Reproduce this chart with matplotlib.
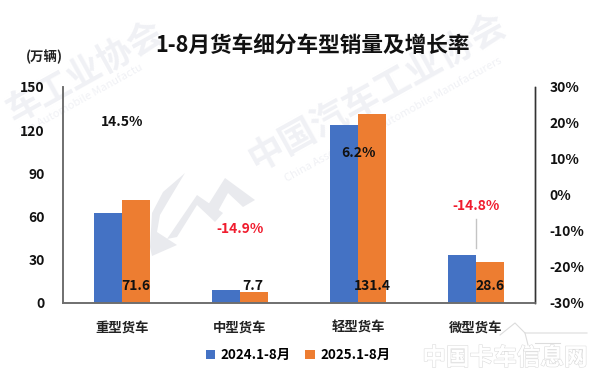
import matplotlib
matplotlib.use("Agg")
import numpy as np
import matplotlib.pyplot as plt
import matplotlib.patheffects as pe
from matplotlib.patches import Polygon
from matplotlib.lines import Line2D

plt.rcParams['font.family'] = ['Noto Sans CJK SC', 'DejaVu Sans']
plt.rcParams['font.weight'] = 'bold'

categories = ["重型货车", "中型货车", "轻型货车", "微型货车"]
sales_2024 = [62.5, 9.0, 123.7, 33.6]
sales_2025 = [71.6, 7.7, 131.4, 28.6]
growth = ["14.5%", "-14.9%", "6.2%", "-14.8%"]
left_ticks = [0, 30, 60, 90, 120, 150]
right_ticks = [-30, -20, -10, 0, 10, 20, 30]
series_names = ["2024.1-8月", "2025.1-8月"]

BLUE = "#4472c4"
ORANGE = "#ed7d31"
MARK = "#f0f1f5"

W, H = 600, 373
fig = plt.figure(figsize=(W / 100, H / 100), dpi=100)
ax = fig.add_axes([63 / W, 1 - 303 / H, 472 / W, 216 / H])
ax.patch.set_alpha(0)

def px(pts):
    return [(a / W, 1 - b / H) for a, b in pts]

# watermark, under the bars
def mark(x, y, s, size, rot=29, weight='bold'):
    fig.text(x / W, 1 - y / H, s, fontsize=size, rotation=rot, color=MARK, weight=weight,
             ha='center', va='center', rotation_mode='anchor', zorder=-5)

mark(378, 92, "中国汽车工业协会", 26)
mark(85, 72, "车工业协会", 25)
mark(393, 120, "China Association of Automobile Manufacturers", 8, weight='normal')
mark(82, 100, "ion Automobile Manufactu", 8, weight='normal')

swoosh = [(185, 173), (163, 192), (152, 213), (150, 247), (152, 256), (177, 245),
          (157, 232), (160, 215), (170, 198)]
m_left = [(167, 239), (197, 195), (223, 213), (215, 222), (197, 205), (177, 237)]
m_right = [(208, 205), (225, 178), (255, 200), (243, 207), (228, 193), (217, 213)]
for shape in (swoosh, m_left, m_right):
    fig.add_artist(Polygon(px(shape), closed=True, transform=fig.transFigure,
                           facecolor="#e9eaee", edgecolor='none', zorder=-5))

x = np.arange(len(categories))
w = 0.237
ax.bar(x - w / 2, sales_2024, w, color=BLUE, label=series_names[0])
ax.bar(x + w / 2, sales_2025, w, color=ORANGE, label=series_names[1])

ax.set_xlim(-0.5, 3.5)
ax.set_ylim(0, 150)
ax.set_xticks(x, categories)
ax.set_yticks(left_ticks)
ax.tick_params(axis='x', length=0, pad=13, labelsize=9.6, colors="#222222")
ax.tick_params(axis='y', length=0, pad=13, labelsize=10, colors="#111111")

ax2 = ax.twinx()
ax2.set_ylim(-30, 30)
ax2.set_yticks(right_ticks, [f"{t}%" for t in right_ticks])
ax2.tick_params(axis='y', length=0, pad=10.5, labelsize=10, colors="#111111")

for a in (ax, ax2):
    a.spines['top'].set_visible(False)
    for s in ('left', 'bottom'):
        a.spines[s].set_color("#6e6e6e")
        a.spines[s].set_linewidth(1.2)
    a.spines['right'].set_color("#333333")
    a.spines['right'].set_linewidth(1.0)

# value labels sit low on the orange bars, as in the source
value_x = [0.12, 1.11, 2.12, 3.12]
for vx, v in zip(value_x, sales_2025):
    ax.text(vx, 11.8, str(v), ha='center', va='center', fontsize=10, color="#111111", zorder=5)

growth_y = [125.7, 51.5, 104.5, 67.5]
growth_col = ["#111111", "#f01c2e", "#111111", "#f01c2e"]
for gx, gy, g, c in zip(x, growth_y, growth, growth_col):
    ax.text(gx, gy, g, ha='center', va='center', fontsize=10, color=c, zorder=5)

# leader line above the micro truck bars
ax.plot([3, 3], [38, 58], color="#c4c4c4", lw=1)

fig.legend(*ax.get_legend_handles_labels(), loc='center', bbox_to_anchor=(298 / W, 1 - 355 / H),
           ncol=2, frameon=False, fontsize=9.6, handlelength=0.7, handleheight=0.7,
           handletextpad=0.4, columnspacing=1.1)

fig.text(313 / W, 1 - 46 / H, "1-8月货车细分车型销量及增长率", fontsize=15.6, ha='center', va='center', color="#111111")
fig.text(44 / W, 1 - 57 / H, "(万辆)", fontsize=9.6, ha='center', va='center', color="#222222")

# site logo, bottom right
t = fig.text(505 / W, 1 - 358 / H, "中国卡车信息网", fontsize=17, ha='center', va='center', color="white", zorder=6)
t.set_path_effects([pe.withStroke(linewidth=0.8, foreground="#dcdcdc")])
for line in ([(500, 335), (515, 323), (525, 333), (587, 333)], [(525, 333), (528, 345)], [(535, 343), (560, 343)]):
    xs, ys = zip(*px(line))
    fig.add_artist(Line2D(xs, ys, transform=fig.transFigure, color="#dcdcdc", lw=0.8, zorder=6))

fig.savefig("out.png", dpi=100)
